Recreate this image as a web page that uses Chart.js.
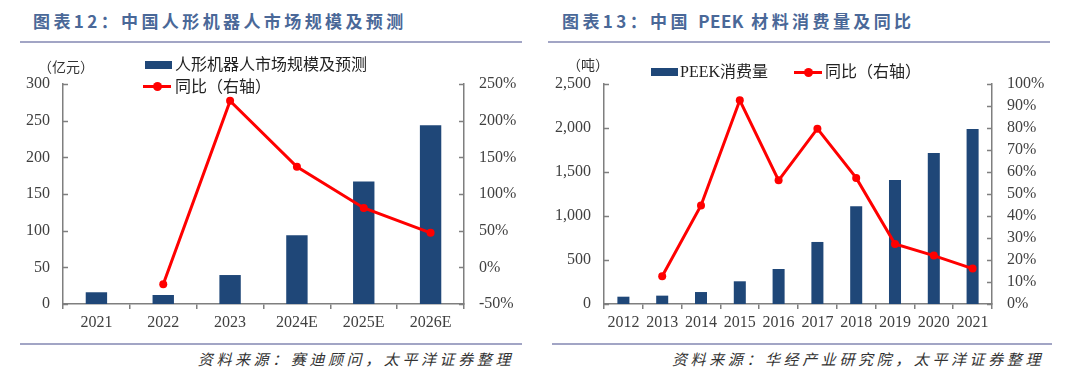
<!DOCTYPE html>
<html lang="zh">
<head>
  <meta charset="UTF-8">
  <title>人形机器人市场规模 / PEEK 消费量</title>
  <style>
    body { margin: 0; background: #fff; }
    #page { position: relative; width: 1080px; height: 387px; overflow: hidden; }
    .title {
      position: absolute; top: 10px; font: bold 17px "Noto Sans CJK SC", sans-serif;
      color: #4a6898; letter-spacing: 3.4px; white-space: nowrap; line-height: 22px;
    }
    .title .lat { letter-spacing: 0.5px; }
    .rule { position: absolute; height: 2px; background: #a2a5c5; }
    .note {
      position: absolute; top: 349px; font: italic 15px "Noto Sans CJK SC", serif;
      color: #333; letter-spacing: 3.6px; white-space: nowrap; line-height: 20px; text-align: right;
    }
    .unit { position: absolute; font: 14px "Noto Sans CJK SC", sans-serif; color: #333; line-height: 18px; white-space: nowrap; }
    .leg { position: absolute; font: 16px "Liberation Serif", "Noto Sans CJK SC", serif; color: #222; line-height: 20px; white-space: nowrap; }
    .sw-bar { position: absolute; height: 8px; width: 27px; background: #1f4778; }
    .sw-line { position: absolute; height: 3px; width: 28px; background: #ff0000; }
    .sw-line::after {
      content: ""; position: absolute; left: 10px; top: -3px; width: 9px; height: 9px;
      border-radius: 50%; background: #ff0000;
    }
    .box { position: absolute; top: 50px; width: 540px; height: 290px; }
  </style>
</head>
<body>
<div id="page">
  <div class="title" style="left:33px">图表12：中国人形机器人市场规模及预测</div>
  <div class="title" style="left:562px">图表13：中国 <span class="lat">PEEK</span> 材料消费量及同比</div>
  <div class="rule" style="left:20px; width:502px; top:41px"></div>
  <div class="rule" style="left:548px; width:502px; top:41px"></div>

  <div class="box" style="left:0"><canvas id="robotChart" width="540" height="290"></canvas></div>
  <div class="box" style="left:540px"><canvas id="peekChart" width="540" height="290"></canvas></div>

  <div class="unit" style="left:38px; top:57px">（亿元）</div>
  <div class="unit" style="left:567px; top:55px">（吨）</div>

  <div class="sw-bar" style="left:145px; top:61px"></div>
  <div class="leg" style="left:175px; top:55px">人形机器人市场规模及预测</div>
  <div class="sw-line" style="left:143px; top:85px"></div>
  <div class="leg" style="left:175px; top:77px">同比（右轴）</div>

  <div class="sw-bar" style="left:651px; top:68px"></div>
  <div class="leg" style="left:680px; top:62px">PEEK消费量</div>
  <div class="sw-line" style="left:794px; top:71px"></div>
  <div class="leg" style="left:825px; top:62px">同比（右轴）</div>

  <div class="rule" style="left:20px; width:502px; top:343px"></div>
  <div class="rule" style="left:552px; width:500px; top:343px"></div>
  <div class="note" style="right:566px">资料来源：赛迪顾问，太平洋证券整理</div>
  <div class="note" style="right:36px">资料来源：华经产业研究院，太平洋证券整理</div>
</div>

<script src="https://cdn.jsdelivr.net/npm/chart.js"></script>
<script>
  // 图表12 数据
  const robotYears = ['2021', '2022', '2023', '2024E', '2025E', '2026E'];
  const robotMarket = [16, 12.3, 39.5, 93.6, 167, 243.6];       // 亿元
  const robotYoy = [null, -23, 227, 137, 81, 47];                // %

  // 图表13 数据
  const peekYears = ['2012', '2013', '2014', '2015', '2016', '2017', '2018', '2019', '2020', '2021'];
  const peekVolume = [83, 95, 136, 258, 398, 705, 1110, 1409, 1716, 1989]; // 吨
  const peekYoy = [null, 12.6, 44.8, 92.6, 56.2, 79.7, 57.3, 27.3, 22.0, 16.1]; // %

  const barColor = '#1f4778';
  const lineColor = '#ff0000';
  const axisColor = '#7f7f7f';
  const tickFont = { family: 'Liberation Serif', size: 16 };

  // petits traits de graduation vers l'intérieur sur les axes Y
  const innerTicks = {
    id: 'innerTicks',
    beforeDatasetsDraw(chart) {
      const ctx = chart.ctx;
      ctx.save();
      ctx.strokeStyle = axisColor;
      ctx.lineWidth = 1.5;
      ['y', 'y1'].forEach(id => {
        const s = chart.scales[id];
        const x0 = id === 'y' ? s.right : s.left;
        const dir = id === 'y' ? 1 : -1;
        s.ticks.forEach((t, i) => {
          const py = Math.round(s.getPixelForTick(i)) + 0.5;
          ctx.beginPath();
          ctx.moveTo(x0, py);
          ctx.lineTo(x0 + dir * 5, py);
          ctx.stroke();
        });
      });
      ctx.restore();
    }
  };

  function makeChart(id, labels, bars, yoy, cfg) {
    const ctx = document.getElementById(id).getContext('2d');
    return new Chart(ctx, {
      type: 'bar',
      data: {
        labels,
        datasets: [
          {
            type: 'line',
            data: yoy,
            yAxisID: 'y1',
            borderColor: lineColor,
            backgroundColor: lineColor,
            borderWidth: 3,
            pointRadius: 4,
            pointBorderWidth: 0,
            pointBackgroundColor: lineColor,
            tension: 0,
            order: 0,
          },
          {
            data: bars,
            yAxisID: 'y',
            backgroundColor: barColor,
            categoryPercentage: 1,
            barPercentage: cfg.barPct,
            order: 1,
          },
        ],
      },
      options: {
        responsive: false,
        animation: false,
        devicePixelRatio: 1,
        layout: { padding: { top: 34, left: 0, right: 0, bottom: 0 } },
        plugins: { legend: { display: false }, tooltip: { enabled: false } },
        scales: {
          x: {
            offset: true,
            grid: { display: true, drawOnChartArea: false, drawTicks: true, tickLength: 5, offset: true, color: axisColor, lineWidth: 1.5 },
            border: { display: true, color: axisColor, width: 1.5 },
            ticks: { font: tickFont, color: '#404040', padding: 4, maxRotation: 0, autoSkip: false },
            afterFit: s => { s.height = 36; },
          },
          y: {
            position: 'left',
            min: cfg.yMin, max: cfg.yMax,
            grid: { display: false, drawTicks: false },
            border: { display: true, color: axisColor, width: 1.5 },
            ticks: { stepSize: cfg.yStep, autoSkip: false, font: tickFont, color: '#404040', padding: 13,
              callback: v => v.toLocaleString('en-US') },
            afterFit: s => { s.width = cfg.leftW; },
          },
          y1: {
            position: 'right',
            min: cfg.y1Min, max: cfg.y1Max,
            grid: { display: false, drawTicks: false },
            border: { display: true, color: axisColor, width: 1.5 },
            ticks: { stepSize: cfg.y1Step, autoSkip: false, font: tickFont, color: '#404040', padding: 15,
              callback: v => v + '%' },
            afterFit: s => { s.width = cfg.rightW; },
          },
        },
      },
      plugins: [innerTicks],
    });
  }

  makeChart('robotChart', robotYears, robotMarket, robotYoy, {
    barPct: 0.32, yMin: 0, yMax: 300, yStep: 50, y1Min: -50, y1Max: 250, y1Step: 50, leftW: 63, rightW: 76,
  });
  makeChart('peekChart', peekYears, peekVolume, peekYoy, {
    barPct: 0.31, yMin: 0, yMax: 2500, yStep: 500, y1Min: 0, y1Max: 100, y1Step: 10, leftW: 64, rightW: 88,
  });
</script>
</body>
</html>
